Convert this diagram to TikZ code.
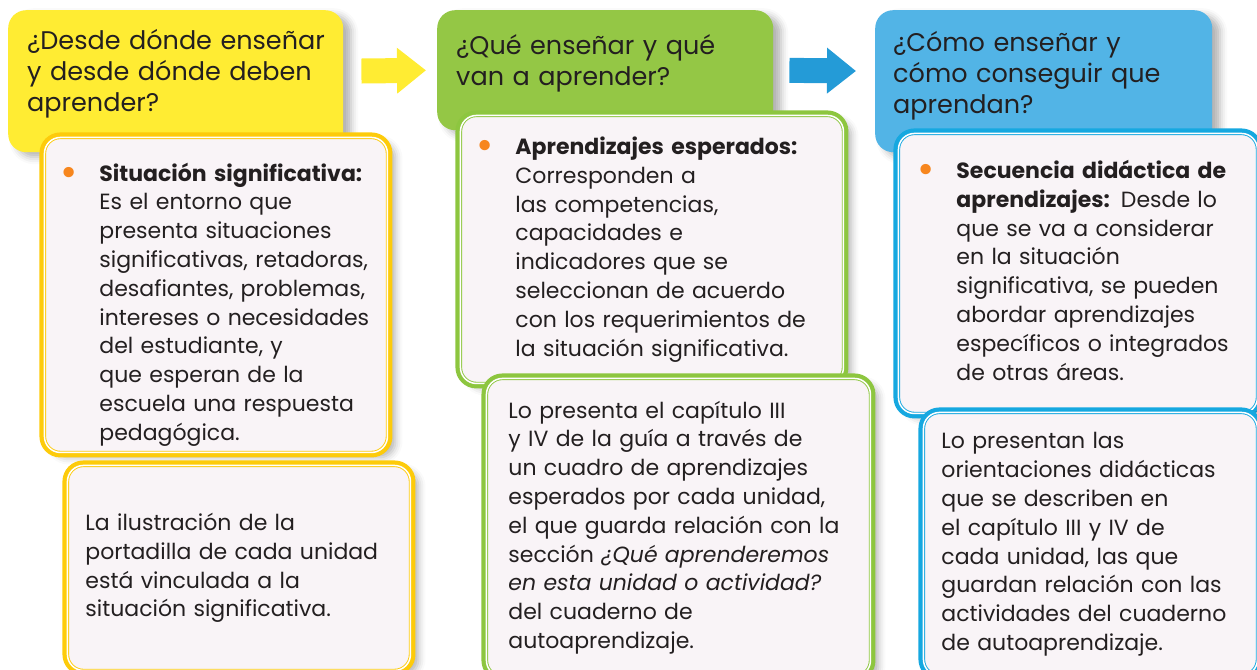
\documentclass[tikz,border=0pt]{standalone}
\usepackage{fontspec}
\setmainfont{Poppins}
\usepackage{tikz}
\usetikzlibrary{arrows.meta,shadows.blur}

\definecolor{amarillo}{HTML}{FFEC33}
\definecolor{oro}{HTML}{FDCB0B}
\definecolor{verde}{HTML}{94C745}
\definecolor{verdeborde}{HTML}{8DC63F}
\definecolor{celeste}{HTML}{52B4E6}
\definecolor{azulborde}{HTML}{16A8E0}
\definecolor{azulflecha}{HTML}{249BD7}
\definecolor{fondo}{HTML}{F9F4F7}
\definecolor{texto}{HTML}{231F20}
\definecolor{naranja}{HTML}{F7861E}

\newcommand{\vineta}{\makebox[35pt][l]{\hspace*{-4pt}\textcolor{naranja}{\raisebox{-5pt}{\scalebox{1.9}{\textbullet}}}}}

\begin{document}
\begin{tikzpicture}[x=1pt,y=-1pt]
\tikzstyle{sombra}=[blur shadow={shadow xshift=8pt,shadow yshift=-5pt,shadow blur radius=7pt,shadow opacity=30}]
\tikzstyle{titulo}=[anchor=north west,inner sep=0pt,rounded corners=18pt,align=left,text=texto,font=\fontsize{25.5}{31}\selectfont,sombra]
\tikzset{caja/.style={anchor=north west,inner sep=0pt,rounded corners=16pt,sombra,preaction={draw=#1,line width=10pt},fill=fondo,draw=#1,line width=0.9pt,double=white,double distance=1.5pt,align=left,text=texto,font=\fontsize{22}{28.8}\selectfont}}
\tikzstyle{flecha}=[line width=25pt,-{Triangle[length=29pt,width=44pt]}]
\useasboundingbox (0,0) rectangle (1257,669);
\clip (0,0) rectangle (1257,669);

% primera columna
\node[titulo,fill=amarillo,minimum width=335pt,minimum height=142pt,text width=297pt,text height=39pt,text depth=103pt] (1) at (8,10)
  {\begin{tabular}[t]{@{}l@{}}¿Desde dónde enseñar\\y desde dónde deben\\aprender?\end{tabular}};
\node[caja=oro,minimum width=343pt,minimum height=315pt,text width=303pt,text height=40pt] (2) at (44,137)
  {\vineta\begin{tabular}[t]{@{}l@{}}\textbf{Situación significativa:}\\Es el entorno que\\presenta situaciones\\significativas, retadoras,\\desafiantes, problemas,\\intereses o necesidades\\del estudiante, y\\que esperan de la\\escuela una respuesta\\pedagógica.\end{tabular}};
\node[caja=oro,minimum width=343pt,minimum height=205pt,text width=307pt] (3) at (67,465)
  {\begin{tabular}[t]{@{}l@{}}La ilustración de la\\portadilla de cada unidad\\está vinculada a la\\situación significativa.\end{tabular}};

% segunda columna
\node[titulo,fill=verde,minimum width=336pt,minimum height=120pt,text width=298pt,text height=44pt,text depth=76pt] (4) at (437,10)
  {\begin{tabular}[t]{@{}l@{}}¿Qué enseñar y qué\\van a aprender?\end{tabular}};
\node[caja=verdeborde,minimum width=383pt,minimum height=268pt,text width=343pt] (5) at (460,115)
  {\vineta\begin{tabular}[t]{@{}l@{}}\textbf{Aprendizajes esperados:}\\Corresponden a\\las competencias,\\capacidades e\\indicadores que se\\seleccionan de acuerdo\\con los requerimientos de\\la situación significativa.\end{tabular}};
\node[caja=verdeborde,minimum width=384pt,minimum height=298pt,text width=340pt] (6) at (486,378)
  {\begin{tabular}[t]{@{}l@{}}Lo presenta el capítulo III\\y IV de la guía a través de\\un cuadro de aprendizajes\\esperados por cada unidad,\\el que guarda relación con la\\sección \textit{¿Qué aprenderemos}\\\textit{en esta unidad o actividad?}\\del cuaderno de\\autoaprendizaje.\end{tabular}};

% tercera columna
\node[titulo,fill=celeste,minimum width=337pt,minimum height=142pt,text width=301pt,text height=41pt,text depth=101pt] (7) at (875,10)
  {\begin{tabular}[t]{@{}l@{}}¿Cómo enseñar y\\cómo conseguir que\\aprendan?\end{tabular}};
\node[caja=azulborde,minimum width=359pt,minimum height=280pt,text width=313pt] (8) at (898,133)
  {\vineta\begin{tabular}[t]{@{}l@{}}\textbf{Secuencia didáctica de}\\\textbf{aprendizajes:} Desde lo\\que se va a considerar\\en la situación\\significativa, se pueden\\abordar aprendizajes\\específicos o integrados\\de otras áreas.\end{tabular}};
\node[caja=azulborde,minimum width=334pt,minimum height=263pt,text width=298pt] (9) at (923,412)
  {\begin{tabular}[t]{@{}l@{}}Lo presentan las\\orientaciones didácticas\\que se describen en\\el capítulo III y IV de\\cada unidad, las que\\guardan relación con las\\actividades del cuaderno\\de autoaprendizaje.\end{tabular}};

\draw[flecha,amarillo,shorten <=18pt,shorten >=11pt] ([yshift=10pt]1.east) -- (4.west);
\draw[flecha,azulflecha,shorten <=16pt,shorten >=19pt] (4.east) -- ([yshift=10pt]7.west);
\end{tikzpicture}
\end{document}
